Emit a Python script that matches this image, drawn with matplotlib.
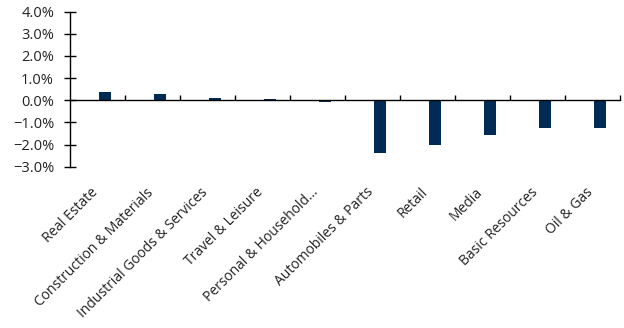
import matplotlib
matplotlib.use("Agg")
import matplotlib.pyplot as plt
import matplotlib.transforms as mtransforms
import numpy as np
from matplotlib.ticker import FuncFormatter, FixedLocator

categories = ["Real Estate", "Construction & Materials", "Industrial Goods & Services",
              "Travel & Leisure", "Personal & Household...", "Automobiles & Parts",
              "Retail", "Media", "Basic Resources", "Oil & Gas"]
values = [0.36, 0.27, 0.12, 0.07, -0.08, -2.38, -2.02, -1.55, -1.27, -1.25]
yticks = [-3, -2, -1, 0, 1, 2, 3, 4]

plt.rcParams['font.family'] = ['Open Sans', 'DejaVu Sans']

fig = plt.figure(figsize=(6.24, 3.28), dpi=100)
ax = fig.add_axes([70/624, 1-166.7/328, 550/624, (166.7-11.7)/328])

x = np.arange(len(categories))
ax.bar(x + 0.14, values, width=0.22, color="#002b55")

ax.set_xlim(-0.5, len(categories) - 0.5)
ax.set_ylim(-3, 4)
ax.set_yticks(yticks)
ax.yaxis.set_major_formatter(FuncFormatter(lambda v, p: f"{v:.1f}%".replace("-", "\u2212")))

for s in ["top", "right"]:
    ax.spines[s].set_visible(False)
ax.spines["bottom"].set_position(("data", 0))
ax.spines["left"].set_linewidth(1.0)
ax.spines["bottom"].set_linewidth(1.0)

ax.set_xticks(x)
ax.set_xticklabels(categories, rotation=45, ha="right", rotation_mode="anchor", fontsize=10, color="#222222")
ax.tick_params(axis="x", which="major", length=0, pad=61)
offset = mtransforms.ScaledTranslation(-7/100, 0, fig.dpi_scale_trans)
for lbl in ax.get_xticklabels():
    lbl.set_transform(lbl.get_transform() + offset)
ax.xaxis.set_minor_locator(FixedLocator(np.arange(0.5, len(categories), 1.0)))
ax.tick_params(axis="x", which="minor", direction="in", length=3.5, width=1.0)
ax.tick_params(axis="y", direction="inout", length=9, width=1.0, labelsize=10.5, labelcolor="#222222", pad=7)

fig.savefig("out.png", dpi=100)
